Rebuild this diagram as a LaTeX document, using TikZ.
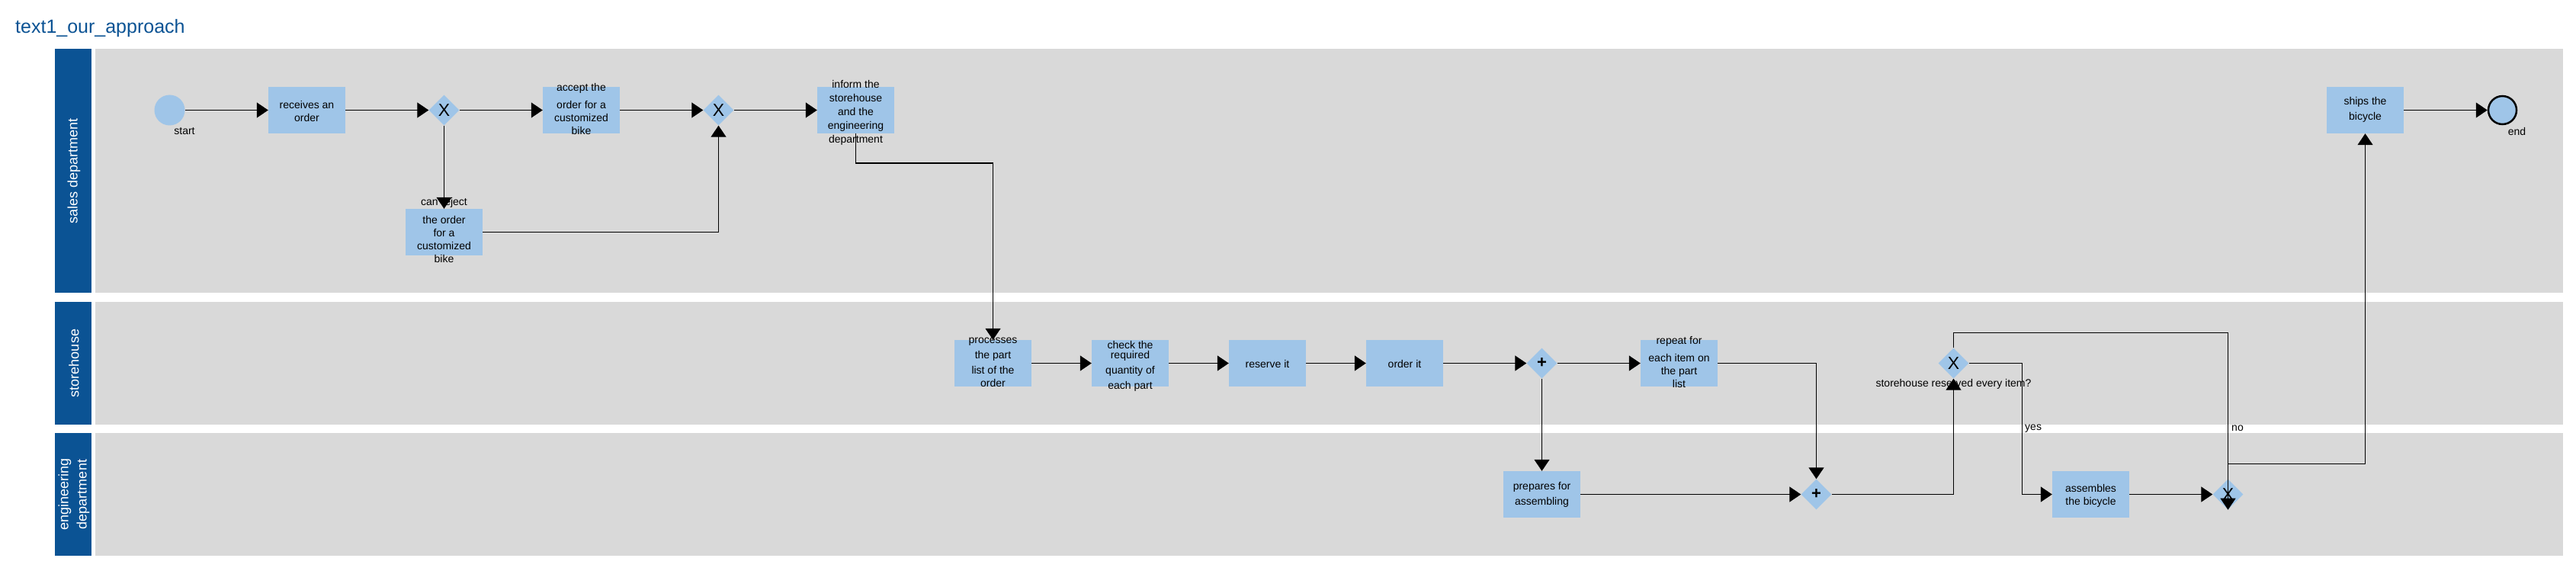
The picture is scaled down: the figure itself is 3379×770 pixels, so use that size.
\documentclass[tikz,border=0pt]{standalone}
\usepackage{fontspec}
\setmainfont{Liberation Sans}
\usetikzlibrary{arrows.meta,shapes.geometric}
\definecolor{lanebg}{HTML}{D9D9D9}
\definecolor{hdr}{HTML}{0B5394}
\definecolor{taskblue}{HTML}{9FC5E8}
\begin{document}
\begin{tikzpicture}[x=1pt,y=-1pt,
  lanebox/.style={fill=lanebg, draw=none},
  lanehdr/.style={fill=hdr, draw=none},
  hdrtext/.style={text=white, rotate=90, font=\fontsize{18}{24}\selectfont, align=center, inner sep=0pt},
  task/.style={rectangle, fill=taskblue, minimum width=101pt, minimum height=61pt, inner sep=0pt, draw=none},
  tasktext/.style={font=\fontsize{14}{17}\selectfont, align=center, inner sep=0pt},
  gw/.style={diamond, fill=taskblue, minimum width=40pt, minimum height=40pt, inner sep=0pt, font=\fontsize{23}{23}\selectfont},
  gwplus/.style={gw, font=\bfseries\fontsize{22}{22}\selectfont},
  startev/.style={circle, fill=taskblue, minimum size=40pt, inner sep=0pt},
  endevent/.style={circle, fill=taskblue, draw=black, line width=2.5pt, minimum size=37pt, inner sep=0pt},
  lbl/.style={font=\fontsize{14}{17}\selectfont, inner sep=0pt},
  flow/.style={draw, line width=1.2pt, -{Triangle[length=15pt,width=20pt]}}
]
\useasboundingbox (0,0) rectangle (3379,770);
\fill[white] (0,0) rectangle (3379,770);

% title
\node[anchor=base west, text=hdr, font=\fontsize{25}{30}\selectfont, inner sep=0pt] (title) at (20,43.3) {text1\_our\_approach};

% lanes
\fill[lanehdr] (72,64) rectangle (120,384);
\fill[lanebox] (125,64) rectangle (3362,384);
\fill[lanehdr] (72,396) rectangle (120,557);
\fill[lanebox] (125,396) rectangle (3362,557);
\fill[lanehdr] (72,568) rectangle (120,729);
\fill[lanebox] (125,568) rectangle (3362,729);
\node[hdrtext] (h1) at (97,224) {sales department};
\node[hdrtext] (h2) at (97,476.5) {storehouse};
\node[hdrtext] (h3) at (97,648.5) {engineering\\department};

% sales department
\node[startev] (start) at (222.5,144.5) {};
\node[lbl] (startlbl) at (242,172) {start};
\node[task] (t1) at (402.5,144.5) {};
\node[gw] (g1) at (582.5,144.5) {X};
\node[task] (t2) at (762.5,144.5) {};
\node[gw] (g2) at (942.5,144.5) {X};
\node[task] (t3) at (1122.5,144.5) {};
\node[task] (t4) at (582.5,304.5) {};
\node[task] (t5) at (3102.5,144.5) {};
\node[endevent] (endev) at (3282.5,144.5) {};
\node[lbl] (endlbl) at (3301.5,172) {end};

% storehouse
\node[task] (t6) at (1302.5,476.5) {};
\node[task] (t7) at (1482.5,476.5) {};
\node[task] (t8) at (1662.5,476.5) {};
\node[task] (t9) at (1842.5,476.5) {};
\node[gwplus] (g3) at (2022.5,476.5) {+};
\node[task] (t10) at (2202.5,476.5) {};
\node[gw] (g4) at (2562.5,476.5) {X};
\node[lbl] (g4lbl) at (2562.5,504.3) {storehouse reserved every item?};

% engineering department
\node[task] (t11) at (2022.5,648.5) {};
\node[gwplus] (g5) at (2382.5,648.5) {+};
\node[task] (t12) at (2742.5,648.5) {};
\node[gw] (g6) at (2922.5,648.5) {X};

% task texts
\node[tasktext] (t1x) at (402.5,145.5) {receives an\\order};
\node[tasktext] (t2x) at (762.5,143) {accept the\\[6pt]order for a\\customized\\bike};
\node[tasktext] (t3x) at (1122.5,147.5) {inform the\\[1pt]storehouse\\[1pt]and the\\[1pt]engineering\\[1pt]department};
\node[tasktext] (t4x) at (582.5,302) {can reject\\[6.7pt]the order\\for a\\customized\\bike};
\node[tasktext] (t5x) at (3102.5,144) {ships the\\[3pt]bicycle};
\node[tasktext] (t6x) at (1302.5,475.5) {processes\\[3pt]the part\\[3pt]list of the\\order};
\node[tasktext] (t7x) at (1482.5,480) {check the\\[-4pt]required\\[3pt]quantity of\\[3pt]each part};
\node[tasktext] (t8x) at (1662.5,477) {reserve it};
\node[tasktext] (t9x) at (1842.5,477) {order it};
\node[tasktext] (t10x) at (2202.5,475) {repeat for\\[6pt]each item on\\the part\\list};
\node[tasktext] (t11x) at (2022.5,649) {prepares for\\[3pt]assembling};
\node[tasktext] (t12x) at (2742.5,650) {assembles\\the bicycle};

% bend points
\coordinate (b1) at (1302.5,214);
\coordinate (yb) at (2652.5,562);
\coordinate (nb) at (2922.5,436.7);
\coordinate (sb) at (3102.5,608.3);

% connectors
\draw[flow] (start) -- (t1);
\draw[flow] (t1) -- (g1);
\draw[flow] (g1) -- (t2);
\draw[flow] (t2) -- (g2);
\draw[flow] (g2) -- (t3);
\draw[flow] (g1) -- (t4);
\draw[flow] (t4.east) -| (g2.south);
\draw[flow] (t3.south) |- (b1) -- (t6.north);
\draw[flow] (t6) -- (t7);
\draw[flow] (t7) -- (t8);
\draw[flow] (t8) -- (t9);
\draw[flow] (t9) -- (g3);
\draw[flow] (g3) -- (t10);
\draw[flow] (g3) -- (t11);
\draw[flow] (t11) -- (g5);
\draw[flow] (t10.east) -| (g5.north);
\draw[flow] (g5.east) -| (g4.south);
\draw[flow] (g4.east) -| (yb) |- (t12.west);
\draw[flow] (t12) -- (g6);
\draw[flow] (g4.north) |- (nb) -- (g6.south);
\draw[flow] (g6.north) |- (sb) -- (t5.south);
\draw[flow] (t5) -- (endev);

\node[lbl, anchor=west] (yeslbl) at (2656,562) {yes};
\node[lbl, anchor=west] (nolbl) at (2927,562) {no};
\end{tikzpicture}
\end{document}
